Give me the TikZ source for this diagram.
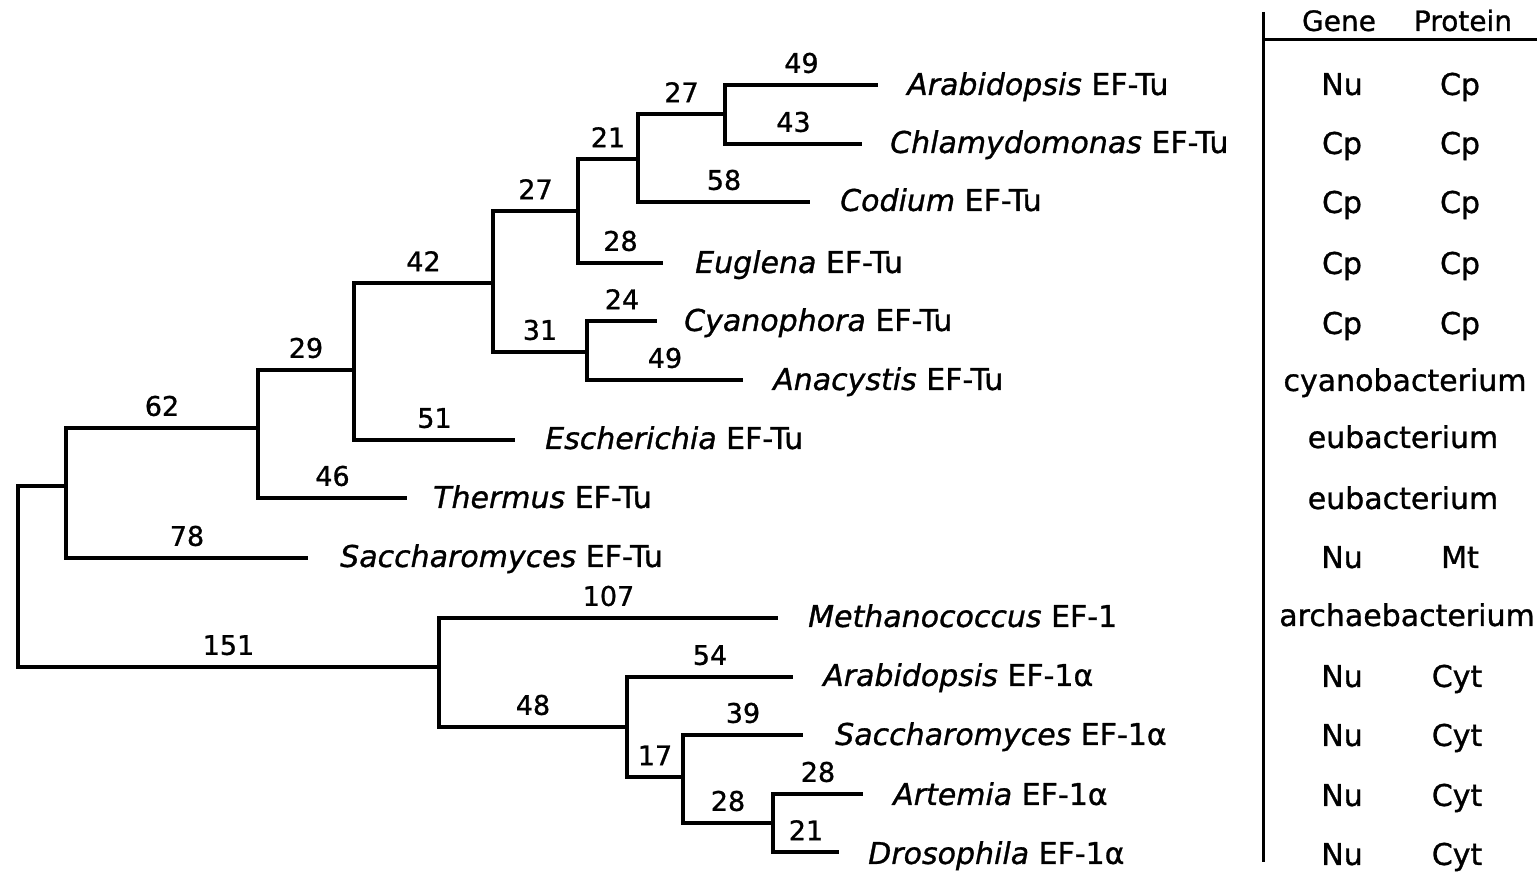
\documentclass[tikz,border=0pt]{standalone}
\usepackage{fontspec}
\setmainfont{DejaVu Sans}[FakeBold=1]
\begin{document}
\begin{tikzpicture}[x=1pt,y=-1pt,
  branch/.style={line width=3.6pt},
  rule/.style={line width=3pt},
  blen/.style={pos=0.75, above, inner sep=0pt, yshift=10pt,
               font=\fontsize{27}{30}\selectfont},
  taxon/.style={anchor=west, inner sep=0pt, text height=21.9pt, text depth=0pt,
                font=\fontsize{30}{36}\selectfont},
  cell/.style={anchor=center, inner sep=0pt, text height=21.9pt, text depth=0pt,
               font=\fontsize{30}{36}\selectfont},
  head/.style={cell, font=\fontsize{28}{34}\selectfont}]
\useasboundingbox (0,0) rectangle (1539,872);

% internal nodes of the tree
\coordinate (R) at (18,577);
\coordinate (A) at (66,486);
\coordinate (B) at (258,428);
\coordinate (C) at (354,370);
\coordinate (D) at (493,283);
\coordinate (F) at (578,211);
\coordinate (G) at (638,159);
\coordinate (H) at (725,114);
\coordinate (E) at (587,352);
\coordinate (I) at (439,667);
\coordinate (J) at (627,727);
\coordinate (K) at (683,777);
\coordinate (L) at (773,823);

% branch tips
\coordinate (t1) at (878,85);
\coordinate (t2) at (862,144);
\coordinate (t3) at (810,202);
\coordinate (t4) at (663,263);
\coordinate (t5) at (657,321);
\coordinate (t6) at (743,380);
\coordinate (t7) at (515,440);
\coordinate (t8) at (407,498);
\coordinate (t9) at (308,558);
\coordinate (t10) at (778,618);
\coordinate (t11) at (793,677);
\coordinate (t12) at (803,735);
\coordinate (t13) at (863,794);
\coordinate (t14) at (839,852);

% branches with their lengths
\draw[branch] (R) |- (A);
\draw[branch] (R) |- node[blen] {151} (I);
\draw[branch] (A) |- node[blen] {62} (B);
\draw[branch] (A) |- node[blen] {78} (t9);
\draw[branch] (B) |- node[blen] {29} (C);
\draw[branch] (B) |- node[blen] {46} (t8);
\draw[branch] (C) |- node[blen] {42} (D);
\draw[branch] (C) |- node[blen] {51} (t7);
\draw[branch] (D) |- node[blen] {27} (F);
\draw[branch] (D) |- node[blen] {31} (E);
\draw[branch] (F) |- node[blen] {21} (G);
\draw[branch] (F) |- node[blen] {28} (t4);
\draw[branch] (G) |- node[blen] {27} (H);
\draw[branch] (G) |- node[blen] {58} (t3);
\draw[branch] (H) |- node[blen] {49} (t1);
\draw[branch] (H) |- node[blen] {43} (t2);
\draw[branch] (E) |- node[blen] {24} (t5);
\draw[branch] (E) |- node[blen] {49} (t6);
\draw[branch] (I) |- node[blen] {107} (t10);
\draw[branch] (I) |- node[blen] {48} (J);
\draw[branch] (J) |- node[blen] {54} (t11);
\draw[branch] (J) |- node[blen] {17} (K);
\draw[branch] (K) |- node[blen] {39} (t12);
\draw[branch] (K) |- node[blen] {28} (L);
\draw[branch] (L) |- node[blen] {28} (t13);
\draw[branch] (L) |- node[blen] {21} (t14);

% taxon names
\node[taxon] (n1) at (907,84) {\itshape Arabidopsis\/ \upshape EF-Tu};
\node[taxon] (n2) at (890,142) {\itshape Chlamydomonas\/ \upshape EF-Tu};
\node[taxon] (n3) at (840,200) {\itshape Codium\/ \upshape EF-Tu};
\node[taxon] (n4) at (695,262) {\itshape Euglena\/ \upshape EF-Tu};
\node[taxon] (n5) at (684,320) {\itshape Cyanophora\/ \upshape EF-Tu};
\node[taxon] (n6) at (773,379) {\itshape Anacystis\/ \upshape EF-Tu};
\node[taxon] (n7) at (545,438) {\itshape Escherichia\/ \upshape EF-Tu};
\node[taxon] (n8) at (433,497) {\itshape Thermus\/ \upshape EF-Tu};
\node[taxon] (n9) at (340,556) {\itshape Saccharomyces\/ \upshape EF-Tu};
\node[taxon] (n10) at (808,616) {\itshape Methanococcus\/ \upshape EF-1};
\node[taxon] (n11) at (823,675) {\itshape Arabidopsis\/ \upshape EF-1α};
\node[taxon] (n12) at (835,734) {\itshape Saccharomyces\/ \upshape EF-1α};
\node[taxon] (n13) at (893,794) {\itshape Artemia\/ \upshape EF-1α};
\node[taxon] (n14) at (868,853) {\itshape Drosophila\/ \upshape EF-1α};

% table of gene and protein locations
\coordinate (vtop) at (1263,12);
\coordinate (vbot) at (1263,862);
\coordinate (hl) at (1263,40);
\coordinate (hr) at (1537,40);
\draw[rule] (vtop) -- (vbot);
\draw[rule] (hl) -- (hr);
\node[head] (hg) at (1339,20) {Gene};
\node[head] (hp) at (1463,20) {Protein};

\node[cell] (g1) at (1342,84) {Nu};   \node[cell] (p1) at (1460,84) {Cp};
\node[cell] (g2) at (1342,143) {Cp};  \node[cell] (p2) at (1460,143) {Cp};
\node[cell] (g3) at (1342,202) {Cp};  \node[cell] (p3) at (1460,202) {Cp};
\node[cell] (g4) at (1342,263) {Cp};  \node[cell] (p4) at (1460,263) {Cp};
\node[cell] (g5) at (1342,323) {Cp};  \node[cell] (p5) at (1460,323) {Cp};
\node[cell] (w6) at (1405,380) {cyanobacterium};
\node[cell] (w7) at (1403,437) {eubacterium};
\node[cell] (w8) at (1403,498) {eubacterium};
\node[cell] (g9) at (1342,557) {Nu};  \node[cell] (p9) at (1460,557) {Mt};
\node[cell] (w10) at (1407,615) {archaebacterium};
\node[cell] (g11) at (1342,676) {Nu}; \node[cell] (p11) at (1457,676) {Cyt};
\node[cell] (g12) at (1342,735) {Nu}; \node[cell] (p12) at (1457,735) {Cyt};
\node[cell] (g13) at (1342,795) {Nu}; \node[cell] (p13) at (1457,795) {Cyt};
\node[cell] (g14) at (1342,854) {Nu}; \node[cell] (p14) at (1457,854) {Cyt};
\end{tikzpicture}
\end{document}
